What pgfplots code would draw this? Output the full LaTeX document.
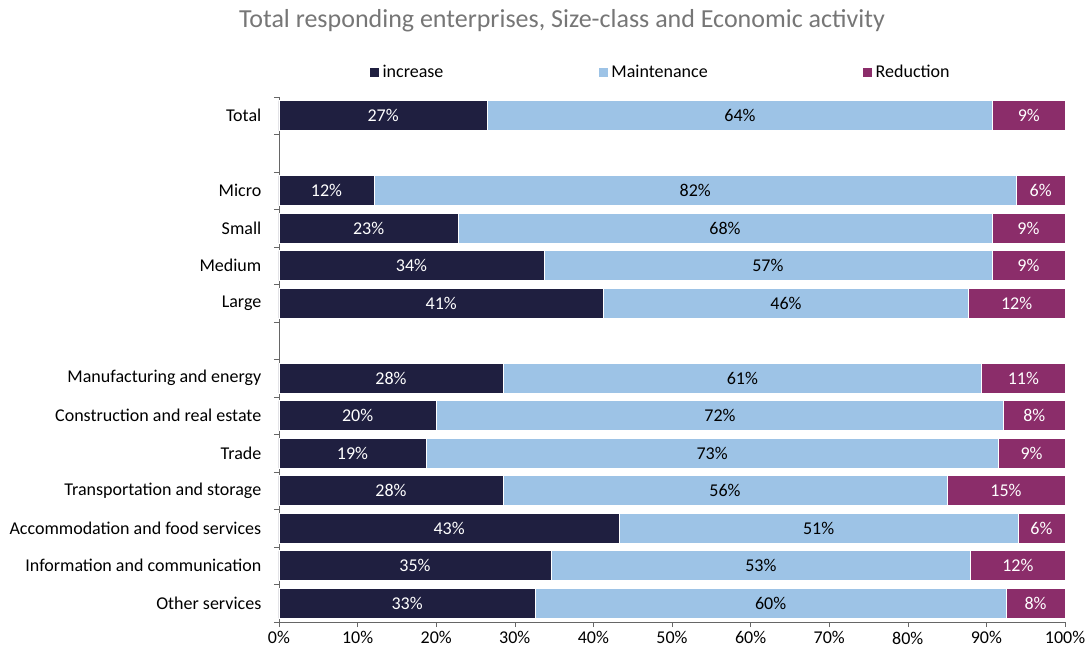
\documentclass[border=0pt]{standalone}
\usepackage{fontspec}
\setmainfont{Carlito}
\usepackage{pgfplots}
\usepackage{pgfplotstable}
\pgfplotsset{compat=1.18}
\definecolor{cinc}{RGB}{31,31,64}
\definecolor{cmai}{RGB}{157,195,230}
\definecolor{cred}{RGB}{139,45,106}
\definecolor{ctitle}{RGB}{118,118,118}
\pgfplotstableread{
y v lab
0 26.5 27
2 12.1 12
3 22.8 23
4 33.7 34
5 41.3 41
7 28.5 28
8 20.0 20
9 18.7 19
10 28.5 28
11 43.3 43
12 34.6 35
13 32.6 33
}\tinc
\pgfplotstableread{
y v lab
0 64.3 64
2 81.7 82
3 67.9 68
4 57.0 57
5 46.4 46
7 60.9 61
8 72.2 72
9 72.8 73
10 56.5 56
11 50.7 51
12 53.4 53
13 59.9 60
}\tmai
\pgfplotstableread{
y v lab
0 9.2 9
2 6.2 6
3 9.3 9
4 9.3 9
5 12.3 12
7 10.6 11
8 7.8 8
9 8.5 9
10 15.0 15
11 6.0 6
12 12.0 12
13 7.5 8
}\tred
\begin{document}
\begin{tikzpicture}
\useasboundingbox (-209.25pt,-22.5pt) rectangle (608.25pt,466.5pt);
\begin{axis}[
  scale only axis,
  width=589.5pt, height=393.75pt,
  xbar stacked,
  bar width=0.8,
  xmin=0, xmax=100,
  ymin=-0.5, ymax=13.5,
  y dir=reverse,
  enlarge x limits=false, enlarge y limits=false,
  axis x line*=bottom, axis y line*=left,
  axis line style={-, draw=black!60},
  font=\fontsize{13.5}{16}\selectfont,
  /pgf/number format/assume math mode=true,
  xtick={0,10,...,100},
  xticklabel={\pgfmathprintnumber{\tick}\%},
  xtick style={draw=black!60},
  tick align=outside,
  major tick length=3.75pt,
  ytick={0,2,3,4,5,7,8,9,10,11,12,13},
  yticklabels={Total,Micro,Small,Medium,Large,Manufacturing and energy,Construction and real estate,Trade,Transportation and storage,Accommodation and food services,Information and communication,Other services},
  ytick style={draw=none},
  yticklabel style={xshift=-6pt},
  extra y ticks={-0.5,0.5,...,13.5},
  extra y tick labels={},
  extra y tick style={ytick style={draw=black!60}, major tick length=3.75pt},
  point meta=explicit symbolic,
  nodes near coords={\pgfplotspointmeta\%},
  every node near coord/.append style={font=\fontsize{13.5}{16}\selectfont},
  legend columns=3,
  legend style={draw=none, fill=none, at={(0.1145,1.0476)}, anchor=west, inner sep=0pt,
    font=\fontsize{13.5}{16}\selectfont,
    /tikz/every even column/.append style={column sep=114pt}},
  legend image code/.code={\fill[#1] (0pt,-3.75pt) rectangle (7.5pt,3.75pt);},
  legend cell align=left,
]
\addplot[fill=cinc, draw=white, line width=0.5pt, every node near coord/.append style={text=white}] table[x=v, y=y, meta=lab] {\tinc};
\addlegendentry{increase}
\addplot[fill=cmai, draw=white, line width=0.5pt, every node near coord/.append style={text=black}] table[x=v, y=y, meta=lab] {\tmai};
\addlegendentry{Maintenance}
\addplot[fill=cred, draw=white, line width=0.5pt, every node near coord/.append style={text=white}] table[x=v, y=y, meta=lab] {\tred};
\addlegendentry{Reduction}
\end{axis}
\node[text=ctitle, font=\fontsize{19.5}{23}\selectfont] at (212.25pt,451pt) {Total responding enterprises, Size-class and Economic activity};
\end{tikzpicture}
\end{document}
